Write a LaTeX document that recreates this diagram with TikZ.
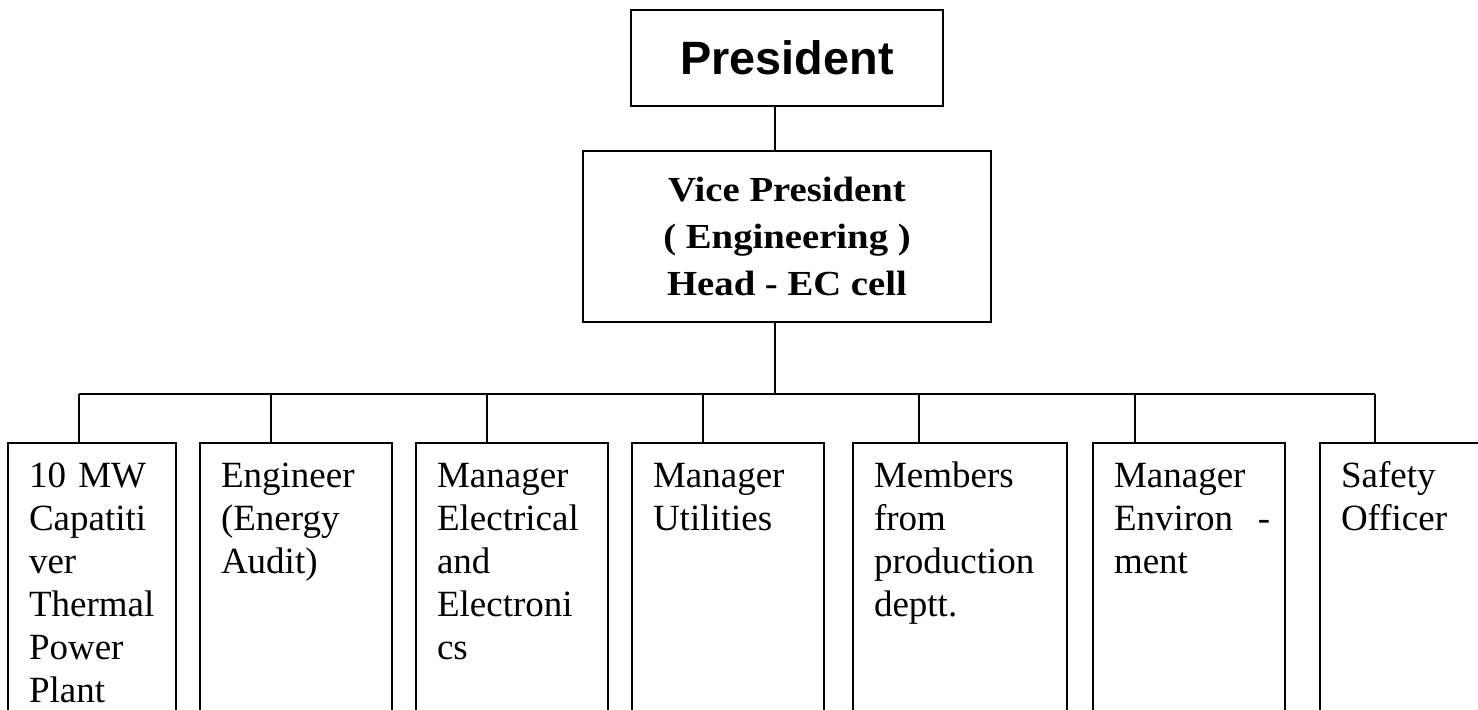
\documentclass[tikz,border=0pt]{standalone}
\usepackage{fontspec}
\setmainfont{Liberation Serif}
\newfontfamily\headfont{Liberation Sans}
\newfontfamily\vpfont{Liberation Serif}[FakeStretch=1.1]
\hyphenpenalty=10000
\exhyphenpenalty=10000

\begin{document}
\begin{tikzpicture}[x=0.5pt,y=-0.5pt,line width=1pt]
    \useasboundingbox (0,0) rectangle (1478,710);
    \clip (0,0) rectangle (1478,710);

    \begin{scope}[every node/.style={draw,inner sep=0pt,align=center}]
      \node[minimum width=156pt,minimum height=48pt,
        font=\headfont\bfseries\fontsize{23.4}{28}\selectfont] (pres) at (787,58) {President};
      \node[minimum width=204pt,minimum height=85.5pt,
        font=\vpfont\bfseries\fontsize{17.6}{23.3}\selectfont] (vp) at (787,236.5)
        {Vice President\\( Engineering )\\Head - EC cell};
    \end{scope}

    \begin{scope}[every node/.style={draw,anchor=north west,inner xsep=10.5pt,inner ysep=0pt,
        align=left,text height=22.5pt,text depth=140pt,font=\fontsize{18.5}{21.5}\selectfont}]
      \node[text width=63pt] (s1) at (7,442) {10 MW\\Capatiti\\ver\\Thermal\\Power\\Plant};
      \node[text width=75pt] (s2) at (199,442) {Engineer\\(Energy\\Audit)};
      \node[text width=75pt] (s3) at (415,442) {Manager\\Electrical\\and\\Electroni\\cs};
      \node[text width=75pt] (s4) at (631,442) {Manager\\Utilities};
      \node[text width=86pt] (s5) at (852,442) {Members\\from\\production\\deptt.};
      \node[text width=75pt] (s6) at (1092,442) {Manager\\Environ~~-\\ment};
      \node[text width=75pt] (s7) at (1319,442) {Safety\\Officer};
    \end{scope}

    \coordinate (bar) at (775,394);
    \foreach \i/\x in {1/79,2/271,3/487,4/703,5/919,6/1135,7/1375}
      \coordinate (d\i) at (\x,394);

    \draw (pres.south -| bar) -- (vp.north -| bar);
    \draw (vp.south -| bar) -- (bar);
    \draw (d1) -- (d7);
    \foreach \i in {1,...,7}
      \draw (d\i) -- (d\i |- s\i.north);
  \end{tikzpicture}
\end{document}
